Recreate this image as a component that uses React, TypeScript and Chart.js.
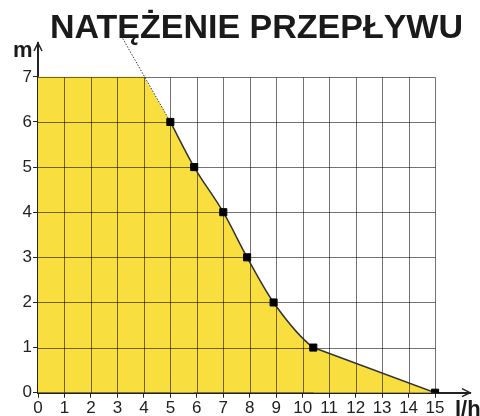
import { useEffect, useRef } from 'react';
import { Chart, registerables } from 'chart.js';

Chart.register(...registerables);

const TITLE = 'NATĘŻENIE PRZEPŁYWU';
const X_UNIT = 'l/h';
const Y_UNIT = 'm';
const X_TICKS = [0, 1, 2, 3, 4, 5, 6, 7, 8, 9, 10, 11, 12, 13, 14, 15];
const Y_TICKS = [0, 1, 2, 3, 4, 5, 6, 7];
// flat (max head) part of the area
const FLAT_X = [0, 4, 5, 5.9];
const FLAT_Y = [7, 7, 6, 5];
// measured pump curve points
const CURVE_X = [5, 5.9, 7, 7.9, 8.9, 10.4, 15];
const CURVE_Y = [6, 5, 4, 3, 2, 1, 0];
// straight tail of the curve
const TAIL_X = [10.4, 15];
const TAIL_Y = [1, 0];
// dotted extension of the curve
const GUIDE_X = [3.2, 5];
const GUIDE_Y = [7.85, 6];

const YELLOW = '#F8DE3E';
const INK = '#222222';
const GRID = 'rgba(0,0,0,0.55)';
const FONT = '"Liberation Sans", Arial, sans-serif';
const TAIL_START = TAIL_X[0];

const toPts = (xs: number[], ys: number[]) => xs.map((x, i) => ({ x, y: ys[i] }));

const decorPlugin = {
  id: 'decor',
  afterDatasetDraw(chart: any, args: any) {
    const ds = chart.data.datasets[args.index];
    if (ds.label !== 'fillC') return;
    const ctx = chart.ctx;
    const xs = chart.scales.x;
    const ys = chart.scales.y;
    const xMax = X_TICKS[X_TICKS.length - 1];
    const yMax = Y_TICKS[Y_TICKS.length - 1];
    ctx.save();
    ctx.lineWidth = 1;
    ctx.strokeStyle = GRID;
    ctx.beginPath();
    X_TICKS.forEach((v) => {
      if (v === 0) return;
      const px = Math.round(xs.getPixelForValue(v)) + 0.5;
      ctx.moveTo(px, ys.getPixelForValue(0));
      ctx.lineTo(px, Math.round(ys.getPixelForValue(yMax)) + 0.5);
    });
    Y_TICKS.forEach((v) => {
      if (v === 0) return;
      const py = Math.round(ys.getPixelForValue(v)) + 0.5;
      ctx.moveTo(xs.getPixelForValue(0), py);
      ctx.lineTo(Math.round(xs.getPixelForValue(xMax)) + 0.5, py);
    });
    ctx.stroke();
    ctx.restore();
  },
  afterDraw(chart: any) {
    const ctx = chart.ctx;
    const a = chart.chartArea;
    ctx.save();
    ctx.strokeStyle = INK;
    ctx.lineWidth = 1.5;
    ctx.beginPath();
    ctx.moveTo(a.left - 4, a.top + 8);
    ctx.lineTo(a.left, a.top);
    ctx.lineTo(a.left + 4, a.top + 8);
    ctx.moveTo(a.right - 8, a.bottom - 4);
    ctx.lineTo(a.right, a.bottom);
    ctx.lineTo(a.right - 8, a.bottom + 4);
    ctx.stroke();
    ctx.fillStyle = '#1a1a1a';
    ctx.textBaseline = 'alphabetic';
    ctx.textAlign = 'left';
    ctx.font = `bold 34px ${FONT}`;
    ctx.fillText(TITLE, 50, 38, 413);
    ctx.font = `bold 22px ${FONT}`;
    ctx.fillText(Y_UNIT, 13, 57);
    ctx.fillText(X_UNIT, 455, 416);
    ctx.restore();
  },
};

export default function App() {
  const ref = useRef<HTMLCanvasElement>(null);
  useEffect(() => {
    if (!ref.current) return;
    const chart = new Chart(ref.current, {
      type: 'line',
      data: {
        datasets: [
          {
            label: 'fillA',
            data: toPts(FLAT_X, FLAT_Y),
            borderWidth: 0,
            borderColor: 'rgba(0,0,0,0)',
            backgroundColor: YELLOW,
            fill: 'origin',
            pointRadius: 0,
            tension: 0,
            order: 7,
          },
          {
            label: 'fillB',
            data: toPts(CURVE_X, CURVE_Y),
            borderWidth: 0,
            borderColor: 'rgba(0,0,0,0)',
            backgroundColor: YELLOW,
            fill: 'origin',
            pointRadius: 0,
            cubicInterpolationMode: 'monotone',
            order: 6,
          },
          {
            label: 'fillC',
            data: toPts(TAIL_X, TAIL_Y),
            borderWidth: 0,
            borderColor: 'rgba(0,0,0,0)',
            backgroundColor: YELLOW,
            fill: 'origin',
            pointRadius: 0,
            tension: 0,
            order: 5,
          },
          {
            label: 'guide',
            data: toPts(GUIDE_X, GUIDE_Y),
            borderColor: '#333333',
            borderWidth: 1,
            borderDash: [1.5, 1.5],
            pointRadius: 0,
            fill: false,
            clip: false,
            order: 4,
          } as any,
          {
            label: 'tail',
            data: toPts(TAIL_X, TAIL_Y),
            borderColor: '#333333',
            borderWidth: 1.5,
            pointRadius: 0,
            fill: false,
            tension: 0,
            order: 3,
          },
          {
            label: 'curve',
            data: toPts(CURVE_X, CURVE_Y),
            borderColor: '#333333',
            borderWidth: 1.5,
            pointStyle: 'rect',
            pointRadius: 5,
            pointBorderWidth: 1,
            pointBackgroundColor: '#000000',
            pointBorderColor: '#000000',
            fill: false,
            cubicInterpolationMode: 'monotone',
            segment: {
              borderColor: (c: any) => (c.p0.parsed.x >= TAIL_START ? 'rgba(0,0,0,0)' : undefined),
            },
            order: 2,
          } as any,
        ],
      },
      options: {
        responsive: false,
        animation: false,
        layout: { padding: { top: 43, right: 10, left: 0, bottom: 0 } },
        plugins: {
          legend: { display: false },
          tooltip: { enabled: false },
          title: { display: false },
        },
        scales: {
          x: {
            type: 'linear',
            min: 0,
            max: 16.32,
            afterBuildTicks: (s: any) => {
              s.ticks = X_TICKS.map((v) => ({ value: v }));
            },
            afterFit: (s: any) => {
              s.height = 23.3;
            },
            grid: { display: true, drawOnChartArea: false, drawTicks: true, tickLength: 5, color: INK, lineWidth: 1 },
            border: { display: true, color: INK, width: 2 },
            ticks: {
              autoSkip: false,
              maxRotation: 0,
              padding: 0,
              color: '#222',
              font: { family: FONT, size: 17 },
              callback: (v: any) => String(v),
            },
          },
          y: {
            type: 'linear',
            min: 0,
            max: 7.75,
            afterBuildTicks: (s: any) => {
              s.ticks = Y_TICKS.map((v) => ({ value: v }));
            },
            afterFit: (s: any) => {
              s.width = 38;
            },
            grid: { display: true, drawOnChartArea: false, drawTicks: true, tickLength: 5, color: INK, lineWidth: 1 },
            border: { display: true, color: INK, width: 2 },
            ticks: {
              autoSkip: false,
              padding: 1,
              color: '#222',
              font: { family: FONT, size: 17 },
              callback: (v: any) => String(v),
            },
          },
        },
      } as any,
      plugins: [decorPlugin],
    });
    return () => chart.destroy();
  }, []);
  return (
    <div style={{ position: 'fixed', left: 0, top: 0, width: 480, height: 416, background: '#fff' }}>
      <canvas ref={ref} width={480} height={416} style={{ display: 'block' }} />
    </div>
  );
}
